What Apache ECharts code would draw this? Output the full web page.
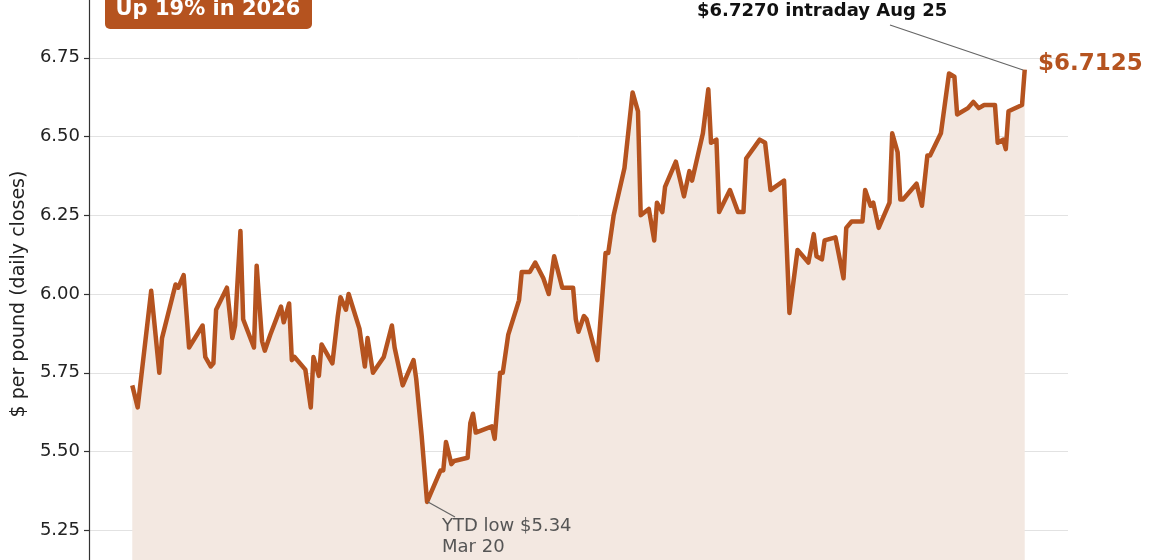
<!DOCTYPE html>
<html>
<head>
<meta charset="utf-8">
<script src="https://cdn.jsdelivr.net/npm/echarts@6/dist/echarts.min.js"></script>
<style>
  html, body { margin: 0; padding: 0; background: #fff; overflow: hidden; width: 1160px; height: 560px; }
  #chart { position: absolute; left: 0; top: -21px; width: 1160px; height: 630px; }
</style>
</head>
<body>
<div id="chart"></div>
<script>
// trading-step index (x) and daily close in $/lb
var steps = [0, 2, 7, 10, 11, 16, 17, 19, 21, 26, 27, 29, 30, 31, 35, 37, 38, 40, 41, 45, 46, 48, 49, 51,
  55, 56, 58, 59, 60, 64, 66, 67, 69, 70, 74, 76, 77, 79, 80, 84, 86, 87, 89, 93, 96, 97, 100, 104, 105, 107, 109,
  114, 115, 116, 118, 119, 124, 125, 126, 127, 133, 134, 136, 137, 139, 143, 144, 147, 149, 152, 154, 156, 159,
  163, 164, 165, 167, 168, 172, 175, 176, 178, 182, 183, 185, 187, 188, 191, 193, 194, 196, 197, 201, 204, 206,
  207, 211, 213, 214, 216, 217, 221, 224, 226, 227, 232, 234, 236, 241, 243, 246, 250, 252, 253, 255, 256, 260,
  263, 264, 266, 270, 271, 273, 274, 276, 280, 281, 283, 284, 285, 290, 292, 294, 295, 299, 302, 304, 305, 309,
  311, 313, 315, 319, 320, 322, 323, 324, 329, 330];
var closes = [5.71, 5.64, 6.01, 5.75, 5.86, 6.03, 6.02, 6.06, 5.83, 5.90, 5.80, 5.77, 5.78, 5.95, 6.02, 5.86,
  5.90, 6.20, 5.92, 5.83, 6.09, 5.85, 5.82, 5.87, 5.96, 5.91, 5.97, 5.79, 5.80, 5.76, 5.64, 5.80, 5.74, 5.84,
  5.78, 5.93, 5.99, 5.95, 6.00, 5.89, 5.77, 5.86, 5.75, 5.80, 5.90, 5.83, 5.71, 5.79, 5.73, 5.55, 5.34,
  5.44, 5.44, 5.53, 5.46, 5.47, 5.48, 5.59, 5.62, 5.56, 5.58, 5.54, 5.75, 5.75, 5.87, 5.98, 6.07, 6.07, 6.10,
  6.05, 6.00, 6.12, 6.02, 6.02, 5.92, 5.88, 5.93, 5.92, 5.79, 6.13, 6.13, 6.25, 6.40, 6.48, 6.64, 6.58, 6.25,
  6.27, 6.17, 6.29, 6.26, 6.34, 6.42, 6.31, 6.39, 6.36, 6.51, 6.65, 6.48, 6.49, 6.26, 6.33, 6.26, 6.26, 6.43,
  6.49, 6.48, 6.33, 6.36, 5.94, 6.14, 6.10, 6.19, 6.12, 6.11, 6.17, 6.18, 6.05, 6.21, 6.23, 6.23, 6.33, 6.28,
  6.29, 6.21, 6.29, 6.51, 6.45, 6.30, 6.30, 6.35, 6.28, 6.44, 6.44, 6.51, 6.70, 6.69, 6.57, 6.59, 6.61, 6.59,
  6.60, 6.60, 6.48, 6.49, 6.46, 6.58, 6.60, 6.7125];

var orange = '#b5531f';
var font = 'DejaVu Sans';
var dy = 21; // chart div starts 21px above the visible window

var chart = echarts.init(document.getElementById('chart'));
var seriesData = steps.map(function (s, i) { return [s, closes[i]]; });

var option = {
  animation: false,
  textStyle: { fontFamily: font },
  grid: { left: 89, right: 92, top: 0, bottom: 0, outerBoundsMode: 'none', containLabel: false },
  xAxis: {
    type: 'value', min: -16, max: 346,
    show: false
  },
  yAxis: {
    type: 'value', min: 5.0, max: 7.0, interval: 0.25,
    name: '$ per pound (daily closes)',
    nameLocation: 'middle', nameGap: 58,
    nameTextStyle: { fontSize: 19, color: '#222', fontFamily: font },
    axisLine: { show: true, onZero: false, lineStyle: { color: '#333', width: 1.2 } },
    axisTick: { show: true, inside: false, length: 5, lineStyle: { color: '#333', width: 1.2 } },
    axisLabel: { fontSize: 18, color: '#222', margin: 9, formatter: function (v) { return v.toFixed(2); } },
    splitLine: { lineStyle: { color: '#e2e2e2', width: 1 } }
  },
  series: [{
    type: 'line',
    data: seriesData,
    symbol: 'none',
    lineStyle: { color: orange, width: 4.5, join: 'round' },
    areaStyle: { color: '#f3e8e1', opacity: 1, origin: 'start' }
  }],
  graphic: [
    { type: 'group', left: 105, top: dy - 12, z: 100, children: [
      { type: 'rect', shape: { x: 0, y: 0, width: 207, height: 41, r: 5 }, style: { fill: orange } },
      { type: 'text', x: 103, y: 22, style: { text: 'Up 19% in 2026', fill: '#fff', font: 'bold 21px DejaVu Sans', textAlign: 'center', textVerticalAlign: 'middle' } }
    ]},
    { type: 'text', z: 100, left: 697, top: dy + 2, style: { text: '$6.7270 intraday Aug 25', fill: '#111', font: 'bold 18px DejaVu Sans' } },
    { type: 'line', z: 100, shape: { x1: 890, y1: dy + 25, x2: 1023, y2: dy + 70 }, style: { stroke: '#666', lineWidth: 1.3 } },
    { type: 'text', z: 100, left: 1038, top: dy + 53, style: { text: '$6.7125', fill: orange, font: 'bold 23px DejaVu Sans' } },
    { type: 'line', z: 100, shape: { x1: 428, y1: dy + 502, x2: 455, y2: dy + 517 }, style: { stroke: '#666', lineWidth: 1.3 } },
    { type: 'text', z: 100, left: 442, top: dy + 516, style: { text: 'YTD low $5.34\nMar 20', fill: '#555', font: '18px DejaVu Sans', lineHeight: 21 } }
  ]
};
chart.setOption(option);
</script>
</body>
</html>
